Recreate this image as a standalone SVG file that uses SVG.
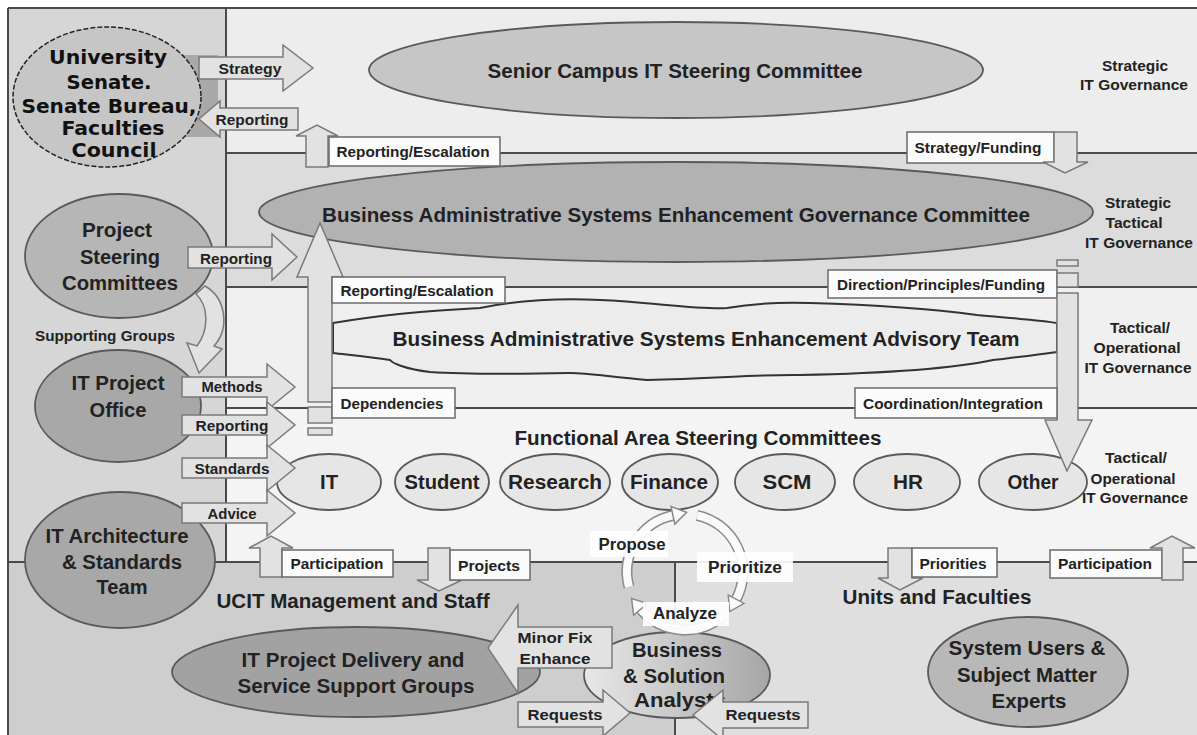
<svg xmlns="http://www.w3.org/2000/svg" width="1197" height="735" viewBox="0 0 1197 735">
<defs>
<style>
.ln{stroke:#4a4a4a;stroke-width:2;fill:none}
.arr{fill:#e2e2e2;stroke:#7a7a7a;stroke-width:1.5}
.box{fill:#fbfbfb;stroke:#6a6a6a;stroke-width:1.5}
.el{stroke:#5a5a5a;stroke-width:1.8}
.t{font-family:"Liberation Sans",Arial,sans-serif;font-weight:bold;fill:#222;text-anchor:middle;dominant-baseline:central}
.lb{font-size:15px}
.big{font-size:21px}
.md{font-size:20px}
.sen{font-family:"DejaVu Sans",Verdana,sans-serif;font-size:20px;font-weight:bold;fill:#111;text-anchor:middle;dominant-baseline:central}
.cyo{fill:none;stroke:#8a8a8a;stroke-width:11}
.cyi{fill:none;stroke:#fafafa;stroke-width:8}
.cyh{fill:#fafafa;stroke:#8a8a8a;stroke-width:1.5}
.wb{fill:#ffffff;fill-opacity:0.9}
</style>
<linearGradient id="bsaGrad" x1="0" y1="0" x2="1" y2="0">
<stop offset="0" stop-color="#e8e8e8"/>
<stop offset="1" stop-color="#a6a6a6"/>
</linearGradient>
</defs>

<g id="background">
<rect x="0" y="0" width="1197" height="735" fill="#ffffff"/>
<rect x="8" y="8" width="1189" height="727" fill="#f2f2f2"/>
<rect x="226" y="8" width="971" height="145" fill="#ededed"/>
<rect x="226" y="153" width="971" height="134" fill="#dcdcdc"/>
<rect x="226" y="287" width="971" height="121" fill="#f0f0f0"/>
<rect x="226" y="408" width="971" height="154" fill="#f4f4f4"/>
<rect x="8" y="8" width="218" height="554" fill="#d6d6d6"/>
<rect x="8" y="562" width="667" height="173" fill="#cecece"/>
<rect x="675" y="562" width="522" height="173" fill="#dfdfdf"/>
<rect x="183" y="55" width="35" height="82" fill="#a9a9a9"/>
<path class="ln" d="M8,8 H1197 M8,8 V735 M226,8 V562 M226,153 H1197 M226,287 H1197 M226,408 H1197 M8,562 H1197 M675,562 V735"/>
</g>

<g id="senate">
<ellipse cx="107" cy="97" rx="94" ry="70" fill="#c6c6c6" stroke="#222" stroke-width="1.5" stroke-dasharray="5 2"/>
<text class="sen" x="108" y="57" textLength="118" lengthAdjust="spacingAndGlyphs">University</text>
<text class="sen" x="109" y="82" textLength="85" lengthAdjust="spacingAndGlyphs">Senate.</text>
<text class="sen" x="109" y="106" textLength="175" lengthAdjust="spacingAndGlyphs">Senate Bureau,</text>
<text class="sen" x="113" y="128" textLength="103" lengthAdjust="spacingAndGlyphs">Faculties</text>
<text class="sen" x="114" y="150" textLength="85" lengthAdjust="spacingAndGlyphs">Council</text>
</g>

<g id="senior-campus">
<ellipse class="el" cx="676" cy="70" rx="307" ry="48" fill="#c6c6c6"/>
<text class="t big" x="675" y="70" textLength="375" lengthAdjust="spacingAndGlyphs">Senior Campus IT Steering Committee</text>
</g>

<g id="strategic-it-governance">
<text class="t lb" x="1135" y="65" textLength="66" lengthAdjust="spacingAndGlyphs">Strategic</text>
<text class="t lb" x="1134" y="84" textLength="108" lengthAdjust="spacingAndGlyphs">IT Governance</text>
</g>

<g id="base-governance">
<ellipse class="el" cx="676" cy="212" rx="417" ry="50" fill="#b2b2b2"/>
<text class="t big" x="676" y="214" textLength="708" lengthAdjust="spacingAndGlyphs">Business Administrative Systems Enhancement Governance Committee</text>
</g>

<g id="strategic-tactical-it-governance">
<text class="t lb" x="1138" y="202" textLength="66" lengthAdjust="spacingAndGlyphs">Strategic</text>
<text class="t lb" x="1134" y="222" textLength="57" lengthAdjust="spacingAndGlyphs">Tactical</text>
<text class="t lb" x="1139" y="242" textLength="108" lengthAdjust="spacingAndGlyphs">IT Governance</text>
</g>

<g id="project-steering">
<ellipse class="el" cx="119" cy="256" rx="94" ry="62" fill="#b6b6b6"/>
<text class="t md" x="117" y="230" textLength="70" lengthAdjust="spacingAndGlyphs">Project</text>
<text class="t md" x="120" y="257" textLength="80" lengthAdjust="spacingAndGlyphs">Steering</text>
<text class="t md" x="120" y="283" textLength="116" lengthAdjust="spacingAndGlyphs">Committees</text>
</g>

<g id="supporting-groups">
<text class="t lb" x="105" y="335" textLength="140" lengthAdjust="spacingAndGlyphs">Supporting Groups</text>
</g>

<g id="base-advisory">
<path d="M333,323 C380,315 440,310 480,308 C520,300 560,298 600,300 C650,302 700,310 727,308 C750,304 780,302 810,303 C880,305 940,310 977,315 C1010,318 1040,320 1057,323 L1057,352 C1030,356 1010,358 993,360 C960,367 900,373 800,375 C770,374 720,378 647,380 C610,377 590,373 570,373 C520,374 460,374 430,372 C405,369 392,363 390,360 C370,357 350,355 333,353 Z" fill="#ececec" stroke="#333" stroke-width="2"/>
<text class="t big" x="706" y="338" textLength="627" lengthAdjust="spacingAndGlyphs">Business Administrative Systems Enhancement Advisory Team</text>
</g>

<g id="tactical-operational-1">
<text class="t lb" x="1140" y="327" textLength="60" lengthAdjust="spacingAndGlyphs">Tactical/</text>
<text class="t lb" x="1137" y="347" textLength="87" lengthAdjust="spacingAndGlyphs">Operational</text>
<text class="t lb" x="1138" y="367" textLength="107" lengthAdjust="spacingAndGlyphs">IT Governance</text>
</g>

<g id="it-project-office">
<ellipse class="el" cx="118" cy="406" rx="83" ry="56" fill="#a8a8a8"/>
<text class="t md" x="118" y="383" textLength="93" lengthAdjust="spacingAndGlyphs">IT Project</text>
<text class="t md" x="118" y="410" textLength="57" lengthAdjust="spacingAndGlyphs">Office</text>
</g>

<g id="it-architecture">
<ellipse class="el" cx="120" cy="560" rx="95" ry="68" fill="#a8a8a8"/>
<text class="t md" x="117" y="536" textLength="143" lengthAdjust="spacingAndGlyphs">IT Architecture</text>
<text class="t md" x="122" y="562" textLength="120" lengthAdjust="spacingAndGlyphs">&amp; Standards</text>
<text class="t md" x="122" y="587" textLength="51" lengthAdjust="spacingAndGlyphs">Team</text>
</g>

<g id="functional-area-title">
<text class="t md" x="698" y="438" textLength="367" lengthAdjust="spacingAndGlyphs">Functional Area Steering Committees</text>
</g>

<g id="fa-it">
<ellipse class="el" cx="329" cy="482" rx="52" ry="28" fill="#e6e6e6"/>
<text class="t md" x="329" y="482" textLength="18" lengthAdjust="spacingAndGlyphs">IT</text>
</g>
<g id="fa-student">
<ellipse class="el" cx="442" cy="482" rx="47" ry="28" fill="#e6e6e6"/>
<text class="t md" x="442" y="482" textLength="75" lengthAdjust="spacingAndGlyphs">Student</text>
</g>
<g id="fa-research">
<ellipse class="el" cx="555" cy="482" rx="55" ry="28" fill="#e6e6e6"/>
<text class="t md" x="555" y="482" textLength="94" lengthAdjust="spacingAndGlyphs">Research</text>
</g>
<g id="fa-finance">
<ellipse class="el" cx="670" cy="482" rx="48" ry="28" fill="#e6e6e6"/>
<text class="t md" x="669" y="482" textLength="78" lengthAdjust="spacingAndGlyphs">Finance</text>
</g>
<g id="fa-scm">
<ellipse class="el" cx="785" cy="482" rx="50" ry="28" fill="#e6e6e6"/>
<text class="t md" x="787" y="482" textLength="49" lengthAdjust="spacingAndGlyphs">SCM</text>
</g>
<g id="fa-hr">
<ellipse class="el" cx="907" cy="482" rx="53" ry="28" fill="#e6e6e6"/>
<text class="t md" x="908" y="482" textLength="30" lengthAdjust="spacingAndGlyphs">HR</text>
</g>
<g id="fa-other">
<ellipse class="el" cx="1033" cy="482" rx="54" ry="28" fill="#e6e6e6"/>
<text class="t md" x="1033" y="482" textLength="51" lengthAdjust="spacingAndGlyphs">Other</text>
</g>

<g id="tactical-operational-2">
<text class="t lb" x="1136" y="457" textLength="62" lengthAdjust="spacingAndGlyphs">Tactical/</text>
<text class="t lb" x="1133" y="478" textLength="85" lengthAdjust="spacingAndGlyphs">Operational</text>
<text class="t lb" x="1135" y="497" textLength="106" lengthAdjust="spacingAndGlyphs">IT Governance</text>
</g>

<g id="ucit-management">
<text class="t md" x="353" y="601" textLength="273" lengthAdjust="spacingAndGlyphs">UCIT Management and Staff</text>
</g>

<g id="units-faculties">
<text class="t md" x="937" y="597" textLength="189" lengthAdjust="spacingAndGlyphs">Units and Faculties</text>
</g>

<g id="it-project-delivery">
<ellipse class="el" cx="356" cy="672" rx="184" ry="45" fill="#a2a2a2"/>
<text class="t md" x="353" y="660" textLength="223" lengthAdjust="spacingAndGlyphs">IT Project Delivery and</text>
<text class="t md" x="356" y="686" textLength="237" lengthAdjust="spacingAndGlyphs">Service Support Groups</text>
</g>

<g id="business-solution-analysts">
<ellipse class="el" cx="677" cy="675" rx="93" ry="43" fill="url(#bsaGrad)"/>
<text class="t md" x="677" y="650" textLength="90" lengthAdjust="spacingAndGlyphs">Business</text>
<text class="t md" x="674" y="676" textLength="102" lengthAdjust="spacingAndGlyphs">&amp; Solution</text>
<text class="t md" x="680" y="700" textLength="92" lengthAdjust="spacingAndGlyphs">Analysts</text>
</g>

<g id="system-users">
<ellipse class="el" cx="1028" cy="672" rx="100" ry="55" fill="#b8b8b8"/>
<text class="t md" x="1027" y="648" textLength="157" lengthAdjust="spacingAndGlyphs">System Users &amp;</text>
<text class="t md" x="1027" y="675" textLength="140" lengthAdjust="spacingAndGlyphs">Subject Matter</text>
<text class="t md" x="1029" y="701" textLength="75" lengthAdjust="spacingAndGlyphs">Experts</text>
</g>

<g id="connectors">
<!-- Strategy -->
<polygon class="arr" points="199,57 283,57 283,45 313,68 283,91 283,79 199,79"/>
<text class="t lb" x="250" y="68" textLength="63" lengthAdjust="spacingAndGlyphs">Strategy</text>
<!-- Reporting to senate -->
<polygon class="arr" points="298,108 298,130 220,130 220,137 199,119 220,101 220,108"/>
<text class="t lb" x="252" y="119" textLength="73" lengthAdjust="spacingAndGlyphs">Reporting</text>
<!-- Reporting/Escalation top -->
<polygon class="arr" points="306,167 306,136 296,136 317,125 338,136 328,136 328,167"/>
<rect class="box" x="329" y="137" width="171" height="29"/>
<text class="t lb" x="413" y="151" textLength="153" lengthAdjust="spacingAndGlyphs">Reporting/Escalation</text>
<!-- Strategy/Funding -->
<rect class="box" x="907" y="132" width="147" height="31"/>
<polygon class="arr" points="1054,132 1077,132 1077,162 1088,162 1065,173 1043,162 1054,162"/>
<text class="t lb" x="978" y="147" textLength="127" lengthAdjust="spacingAndGlyphs">Strategy/Funding</text>
<!-- Reporting from project steering -->
<polygon class="arr" points="188,247 272,247 272,234 297,257 272,280 272,268 188,268"/>
<text class="t lb" x="236" y="258" textLength="72" lengthAdjust="spacingAndGlyphs">Reporting</text>
<!-- Supporting groups curved arrow -->
<path class="arr" d="M205,286 C226,298 230,328 214,346 L222,349 L199,373 L187,343 L197,346 C209,330 209,306 196,294 Z" fill="#f0f0f0"/>
<!-- Big up arrow -->
<polygon class="arr" points="308,402 308,277 297,277 320,223 343,277 332,277 332,402"/>
<rect class="arr" x="308" y="407" width="24" height="16"/>
<rect class="arr" x="308" y="428" width="24" height="7"/>
<rect class="box" x="332" y="277" width="173" height="26"/>
<text class="t lb" x="417" y="290" textLength="153" lengthAdjust="spacingAndGlyphs">Reporting/Escalation</text>
<rect class="box" x="332" y="388" width="123" height="30"/>
<text class="t lb" x="392" y="403" textLength="103" lengthAdjust="spacingAndGlyphs">Dependencies</text>
<!-- Right down arrow -->
<rect class="box" x="828" y="270" width="229" height="28"/>
<text class="t lb" x="941" y="284" textLength="208" lengthAdjust="spacingAndGlyphs">Direction/Principles/Funding</text>
<rect class="arr" x="1057" y="260" width="21" height="6"/>
<rect class="arr" x="1057" y="273" width="21" height="14"/>
<polygon class="arr" points="1057,293 1078,293 1078,420 1092,420 1067,471 1045,420 1057,420"/>
<rect class="box" x="855" y="388" width="202" height="30"/>
<text class="t lb" x="953" y="403" textLength="180" lengthAdjust="spacingAndGlyphs">Coordination/Integration</text>
<!-- side arrows -->
<polygon class="arr" points="182,377 267,377 267,364 295,387 267,410 267,397 182,397"/>
<text class="t lb" x="232" y="386" textLength="61" lengthAdjust="spacingAndGlyphs">Methods</text>
<polygon class="arr" points="182,415 267,415 267,402 295,425 267,448 267,435 182,435"/>
<text class="t lb" x="232" y="425" textLength="73" lengthAdjust="spacingAndGlyphs">Reporting</text>
<polygon class="arr" points="182,458 267,458 267,445 295,468 267,491 267,478 182,478"/>
<text class="t lb" x="232" y="468" textLength="75" lengthAdjust="spacingAndGlyphs">Standards</text>
<polygon class="arr" points="182,503 267,503 267,490 295,513 267,536 267,523 182,523"/>
<text class="t lb" x="232" y="513" textLength="49" lengthAdjust="spacingAndGlyphs">Advice</text>
<!-- Participation left -->
<polygon class="arr" points="260,577 260,548 249,548 271,536 293,548 282,548 282,577"/>
<rect class="box" x="282" y="550" width="111" height="27"/>
<text class="t lb" x="337" y="563" textLength="93" lengthAdjust="spacingAndGlyphs">Participation</text>
<!-- Projects -->
<polygon class="arr" points="428,548 450,548 450,580 462,580 439,591 417,580 428,580"/>
<rect class="box" x="450" y="550" width="80" height="30"/>
<text class="t lb" x="489" y="565" textLength="62" lengthAdjust="spacingAndGlyphs">Projects</text>
<!-- Priorities -->
<polygon class="arr" points="888,548 912,548 912,578 923,578 900,590 878,578 888,578"/>
<rect class="box" x="912" y="548" width="85" height="29"/>
<text class="t lb" x="953" y="563" textLength="67" lengthAdjust="spacingAndGlyphs">Priorities</text>
<!-- Participation right -->
<rect class="box" x="1050" y="550" width="112" height="28"/>
<text class="t lb" x="1105" y="563" textLength="94" lengthAdjust="spacingAndGlyphs">Participation</text>
<polygon class="arr" points="1162,580 1162,548 1150,548 1172,536 1195,548 1183,548 1183,580"/>
<!-- Minor Fix / Enhance -->
<polygon class="arr" points="612,627 612,668 518,668 518,693 488,648 518,605 518,627"/>
<text class="t lb" x="555" y="637" textLength="75" lengthAdjust="spacingAndGlyphs">Minor Fix</text>
<text class="t lb" x="555" y="658" textLength="71" lengthAdjust="spacingAndGlyphs">Enhance</text>
<!-- Requests -->
<polygon class="arr" points="518,702 603,702 603,690 630,713 603,736 603,727 518,727"/>
<text class="t lb" x="565" y="714" textLength="75" lengthAdjust="spacingAndGlyphs">Requests</text>
<polygon class="arr" points="808,702 723,702 723,690 693,715 723,740 723,728 808,728"/>
<text class="t lb" x="763" y="714" textLength="75" lengthAdjust="spacingAndGlyphs">Requests</text>
<!-- cycle -->
<path class="cyo" d="M629,587 A58 58 0 0 1 672.9,515.3"/>
<path class="cyi" d="M629,587 A58 58 0 0 1 672.9,515.3"/>
<polygon class="cyh" points="674.8,524.1 686.6,512.4 671,506.5"/>
<path class="cyo" d="M697.1,515.3 A58 58 0 0 1 736.2,599.2"/>
<path class="cyi" d="M697.1,515.3 A58 58 0 0 1 736.2,599.2"/>
<polygon class="cyh" points="744.1,603.4 729.6,611.6 728.3,595"/>
<path class="cyo" d="M722.3,616.4 A58 58 0 0 1 640.6,609.3"/>
<path class="cyi" d="M722.3,616.4 A58 58 0 0 1 640.6,609.3"/>
<polygon class="cyh" points="633.7,615.1 631.6,598.6 647.5,603.5"/>
<rect class="wb" x="590" y="531" width="78" height="26"/>
<text class="t" style="font-size:16px" x="632" y="544" textLength="67" lengthAdjust="spacingAndGlyphs">Propose</text>
<rect class="wb" x="697" y="552" width="96" height="30"/>
<text class="t" style="font-size:16px" x="745" y="567" textLength="74" lengthAdjust="spacingAndGlyphs">Prioritize</text>
<rect class="wb" x="643" y="602" width="86" height="24"/>
<text class="t" style="font-size:16px" x="685" y="613" textLength="64" lengthAdjust="spacingAndGlyphs">Analyze</text>
</g>
</svg>
